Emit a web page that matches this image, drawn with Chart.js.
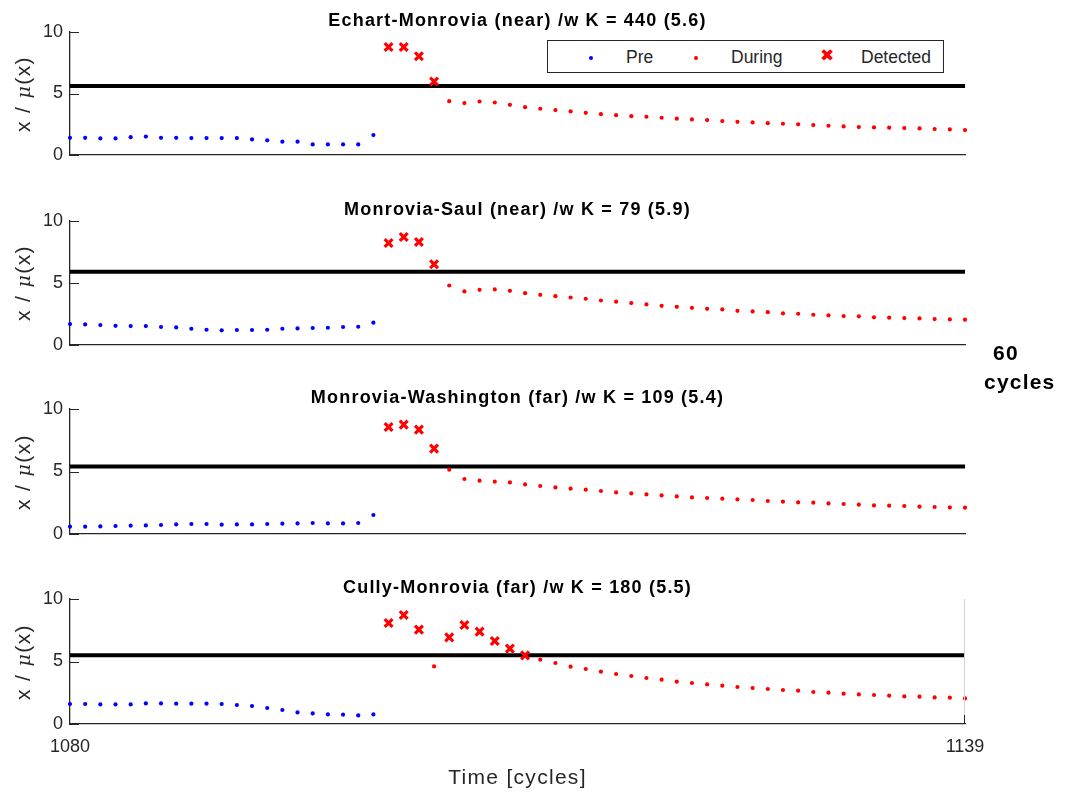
<!DOCTYPE html>
<html>
<head>
<meta charset="utf-8">
<script src="https://cdn.jsdelivr.net/npm/chart.js@4.4.1/dist/chart.umd.min.js"></script>
<style>
  body { margin: 0; background: #fff; width: 1067px; height: 794px; position: relative; overflow: hidden;
         font-family: "Liberation Sans", Arial, sans-serif; color: #262626; }
  canvas { position: absolute; left: 0; }
  .title { position: absolute; left: 70px; width: 895px; text-align: center; font-weight: bold;
           font-size: 18px; letter-spacing: 1.2px; color: #000; line-height: 20px; }
  .ylab { position: absolute; width: 140px; height: 24px; line-height: 24px; text-align: center;
          font-size: 21px; letter-spacing: 1.4px; transform: rotate(-90deg); white-space: nowrap; }
  .ylab i { font-family: "DejaVu Serif", "Liberation Serif", serif; font-size: 19px; }
  .xlab { position: absolute; left: 70px; width: 895px; top: 765px; line-height: 24px; text-align: center;
          font-size: 21px; letter-spacing: 1.3px; }
  .side { position: absolute; font-weight: bold; font-size: 21px; letter-spacing: 1.2px; color: #000; line-height: 24px; }
  .legend { position: absolute; left: 547px; top: 40px; width: 395px; height: 31px; border: 1px solid #262626;
            background: #fff; font-size: 17.5px; z-index: 5; }
  .legend span { position: absolute; top: 6px; }
  .dot { position: absolute; width: 4px; height: 4px; border-radius: 50%; top: 15px; }
  .xmark { position: absolute; top: 4px; color: #ff0000; font-size: 17px; }
</style>
</head>
<body>
<script>
// x axis: cycles
const xMin = 1080;
const xMax = 1139;
const preStart = 1080;
const duringStart = 1101;

const titles = [
  "Echart-Monrovia (near) /w K = 440 (5.6)",
  "Monrovia-Saul (near) /w K = 79 (5.9)",
  "Monrovia-Washington (far) /w K = 109 (5.4)",
  "Cully-Monrovia (far) /w K = 180 (5.5)"
];
const thresholds = [5.6, 5.9, 5.4, 5.5];
const yTicks = [0, 5, 10];
const xTickLabels = [1080, 1139];

// Pre values, cycles 1080..1100
const pre1 = [1.4, 1.4, 1.35, 1.35, 1.45, 1.5, 1.4, 1.4, 1.38, 1.38, 1.38, 1.38, 1.27, 1.19, 1.08, 1.08, 0.86, 0.86, 0.86, 0.86, 1.62];
const pre2 = [1.69, 1.66, 1.61, 1.55, 1.53, 1.53, 1.45, 1.42, 1.31, 1.23, 1.18, 1.21, 1.21, 1.23, 1.31, 1.34, 1.37, 1.39, 1.45, 1.47, 1.8];
const pre3 = [0.59, 0.59, 0.61, 0.64, 0.67, 0.69, 0.72, 0.77, 0.8, 0.8, 0.75, 0.77, 0.77, 0.8, 0.83, 0.85, 0.88, 0.85, 0.85, 0.88, 1.52];
const pre4 = [1.6, 1.6, 1.57, 1.57, 1.57, 1.65, 1.65, 1.63, 1.63, 1.63, 1.6, 1.52, 1.44, 1.28, 1.12, 0.93, 0.85, 0.77, 0.75, 0.69, 0.77];

// During values, cycles 1101..1139 (null where hidden under a detection mark)
const during1 = [null, null, null, null, 4.38, 4.22, 4.35, 4.27, 4.08, 3.89, 3.76, 3.65, 3.54, 3.43, 3.32, 3.24, 3.16, 3.11, 3.03, 2.95,
  2.89, 2.84, 2.76, 2.70, 2.65, 2.59, 2.54, 2.49, 2.43, 2.38, 2.32, 2.27, 2.24, 2.22, 2.19, 2.16, 2.11, 2.08, 2.03];
const during2 = [null, null, null, null, 4.80, 4.32, 4.45, 4.48, 4.37, 4.18, 4.05, 3.94, 3.83, 3.73, 3.59, 3.49, 3.38, 3.27, 3.16, 3.08,
  3.0, 2.92, 2.87, 2.76, 2.71, 2.65, 2.55, 2.52, 2.44, 2.39, 2.33, 2.31, 2.23, 2.2, 2.17, 2.14, 2.09, 2.06, 2.04];
const during3 = [null, null, null, null, 5.15, 4.4, 4.27, 4.19, 4.13, 3.97, 3.84, 3.73, 3.63, 3.55, 3.44, 3.33, 3.25, 3.17, 3.09, 3.01,
  2.93, 2.88, 2.83, 2.77, 2.72, 2.64, 2.59, 2.53, 2.51, 2.45, 2.4, 2.35, 2.29, 2.27, 2.24, 2.19, 2.16, 2.13, 2.11];
const during4 = [null, null, null, 4.61, null, null, null, null, null, null, 5.15, 4.88, 4.59, 4.4, 4.19, 4.0, 3.84, 3.68, 3.55, 3.39,
  3.28, 3.17, 3.07, 2.96, 2.88, 2.8, 2.72, 2.67, 2.56, 2.51, 2.43, 2.37, 2.32, 2.27, 2.21, 2.19, 2.13, 2.11, 2.05];

// Detected
const detCycles1 = [1101, 1102, 1103, 1104];
const detValues1 = [8.78, 8.78, 8.03, 5.97];
const detCycles2 = [1101, 1102, 1103, 1104];
const detValues2 = [8.23, 8.71, 8.31, 6.51];
const detCycles3 = [1101, 1102, 1103, 1104];
const detValues3 = [8.56, 8.75, 8.35, 6.83];
const detCycles4 = [1101, 1102, 1103, 1105, 1106, 1107, 1108, 1109, 1110];
const detValues4 = [8.08, 8.72, 7.55, 6.93, 7.92, 7.39, 6.64, 6.03, 5.49];

const preSets = [pre1, pre2, pre3, pre4];
const duringSets = [during1, during2, during3, during4];
const detCycleSets = [detCycles1, detCycles2, detCycles3, detCycles4];
const detValueSets = [detValues1, detValues2, detValues3, detValues4];

// layout: plot area top/bottom per panel (px)
const plotTops = [32, 221, 409, 599];
const plotBottoms = [155, 345, 534, 724];
const axisColor = "#262626";

const inwardTicks = {
  id: "inwardTicks",
  afterDraw(chart, args, opts) {
    const { ctx, chartArea: a, scales: { x, y } } = chart;
    ctx.save();
    ctx.strokeStyle = axisColor;
    ctx.lineWidth = 1;
    yTicks.forEach((v) => {
      const py = Math.round(y.getPixelForValue(v)) + 0.5;
      ctx.beginPath();
      ctx.moveTo(a.left, py);
      ctx.lineTo(a.left + 9, py);
      ctx.stroke();
    });
    if (opts.bottom) {
      const px = Math.round(x.getPixelForValue(xMax)) - 0.5;
      ctx.strokeStyle = "#d4d4d4";
      ctx.beginPath();
      ctx.moveTo(px, a.top);
      ctx.lineTo(px, a.bottom);
      ctx.stroke();
      ctx.strokeStyle = axisColor;
      ctx.beginPath();
      ctx.moveTo(px, a.bottom);
      ctx.lineTo(px, a.bottom - 9);
      ctx.stroke();
    }
    ctx.restore();
  },
};

function addDiv(cls, html, style) {
  const d = document.createElement("div");
  d.className = cls;
  d.innerHTML = html;
  Object.assign(d.style, style || {});
  document.body.appendChild(d);
  return d;
}

titles.forEach((title, i) => {
  const bottom = i === titles.length - 1;
  const xh = bottom ? 60 : 12;
  const top = plotTops[i] - 10;
  const height = plotBottoms[i] - plotTops[i] + 10 + xh;

  const canvas = document.createElement("canvas");
  canvas.width = 1067;
  canvas.height = height;
  canvas.style.top = top + "px";
  document.body.appendChild(canvas);

  addDiv("title", title, { top: (plotTops[i] - 22.5) + "px" });
  const cy = (plotTops[i] + plotBottoms[i]) / 2;
  addDiv("ylab", "x / <i>μ</i>(x)", { left: (23 - 70) + "px", top: (cy - 12) + "px" });

  const pre = preSets[i].map((v, k) => ({ x: preStart + k, y: v }));
  const during = duringSets[i].map((v, k) => ({ x: duringStart + k, y: v }));
  const detected = detCycleSets[i].map((c, k) => ({ x: c, y: detValueSets[i][k] }));
  const th = [{ x: xMin, y: thresholds[i] }, { x: xMax, y: thresholds[i] }];

  new Chart(canvas, {
    type: "scatter",
    data: {
      datasets: [
        { label: "Detected", data: detected, pointStyle: "crossRot", pointRadius: 5.5, borderWidth: 3.2,
          borderColor: "#ff0000", backgroundColor: "#ff0000", clip: false },
        { label: "During", data: during, pointRadius: 2.1, pointBorderWidth: 0,
          backgroundColor: "#ff0000", borderColor: "#ff0000", clip: false },
        { label: "Pre", data: pre, pointRadius: 2.1, pointBorderWidth: 0,
          backgroundColor: "#0000ff", borderColor: "#0000ff", clip: false },
        { type: "line", label: "threshold", data: th, showLine: true, borderColor: "#000", borderWidth: 4,
          pointRadius: 0, clip: false },
      ],
    },
    options: {
      responsive: false,
      animation: false,
      layout: { padding: { top: 10, right: 102, left: 0, bottom: 0 } },
      plugins: { legend: { display: false }, tooltip: { enabled: false }, inwardTicks: { bottom } },
      scales: {
        x: {
          type: "linear", min: xMin, max: xMax,
          grid: { display: false, drawTicks: false },
          border: { display: true, color: axisColor, width: 1.3 },
          ticks: { display: bottom, padding: 12, color: axisColor, font: { size: 18, family: "Liberation Sans" },
                   callback: (v) => String(v) },
          afterBuildTicks: (s) => { s.ticks = xTickLabels.map((v) => ({ value: v })); },
          afterFit: (s) => { s.height = xh; s.paddingLeft = 0; s.paddingRight = 0; },
        },
        y: {
          min: 0, max: 10,
          grid: { display: false, drawTicks: false },
          border: { display: true, color: axisColor, width: 1.3 },
          ticks: { stepSize: 5, padding: 7, color: axisColor, font: { size: 18, family: "Liberation Sans" } },
          afterBuildTicks: (s) => { s.ticks = yTicks.map((v) => ({ value: v })); },
          afterFit: (s) => { s.width = 70; s.paddingTop = 0; s.paddingBottom = 0; },
        },
      },
    },
    plugins: [inwardTicks],
  });
});

addDiv("xlab", "Time [cycles]");
addDiv("side", "60", { left: "993px", top: "341px" });
addDiv("side", "cycles", { left: "984px", top: "370px" });
addDiv("legend",
  '<div class="dot" style="left:41px;background:#0000ff"></div><span style="left:78px">Pre</span>' +
  '<div class="dot" style="left:146px;background:#ff0000"></div><span style="left:183px">During</span>' +
  '<div class="xmark" style="left:272px">✖</div><span style="left:313px">Detected</span>');
</script>
</body>
</html>
